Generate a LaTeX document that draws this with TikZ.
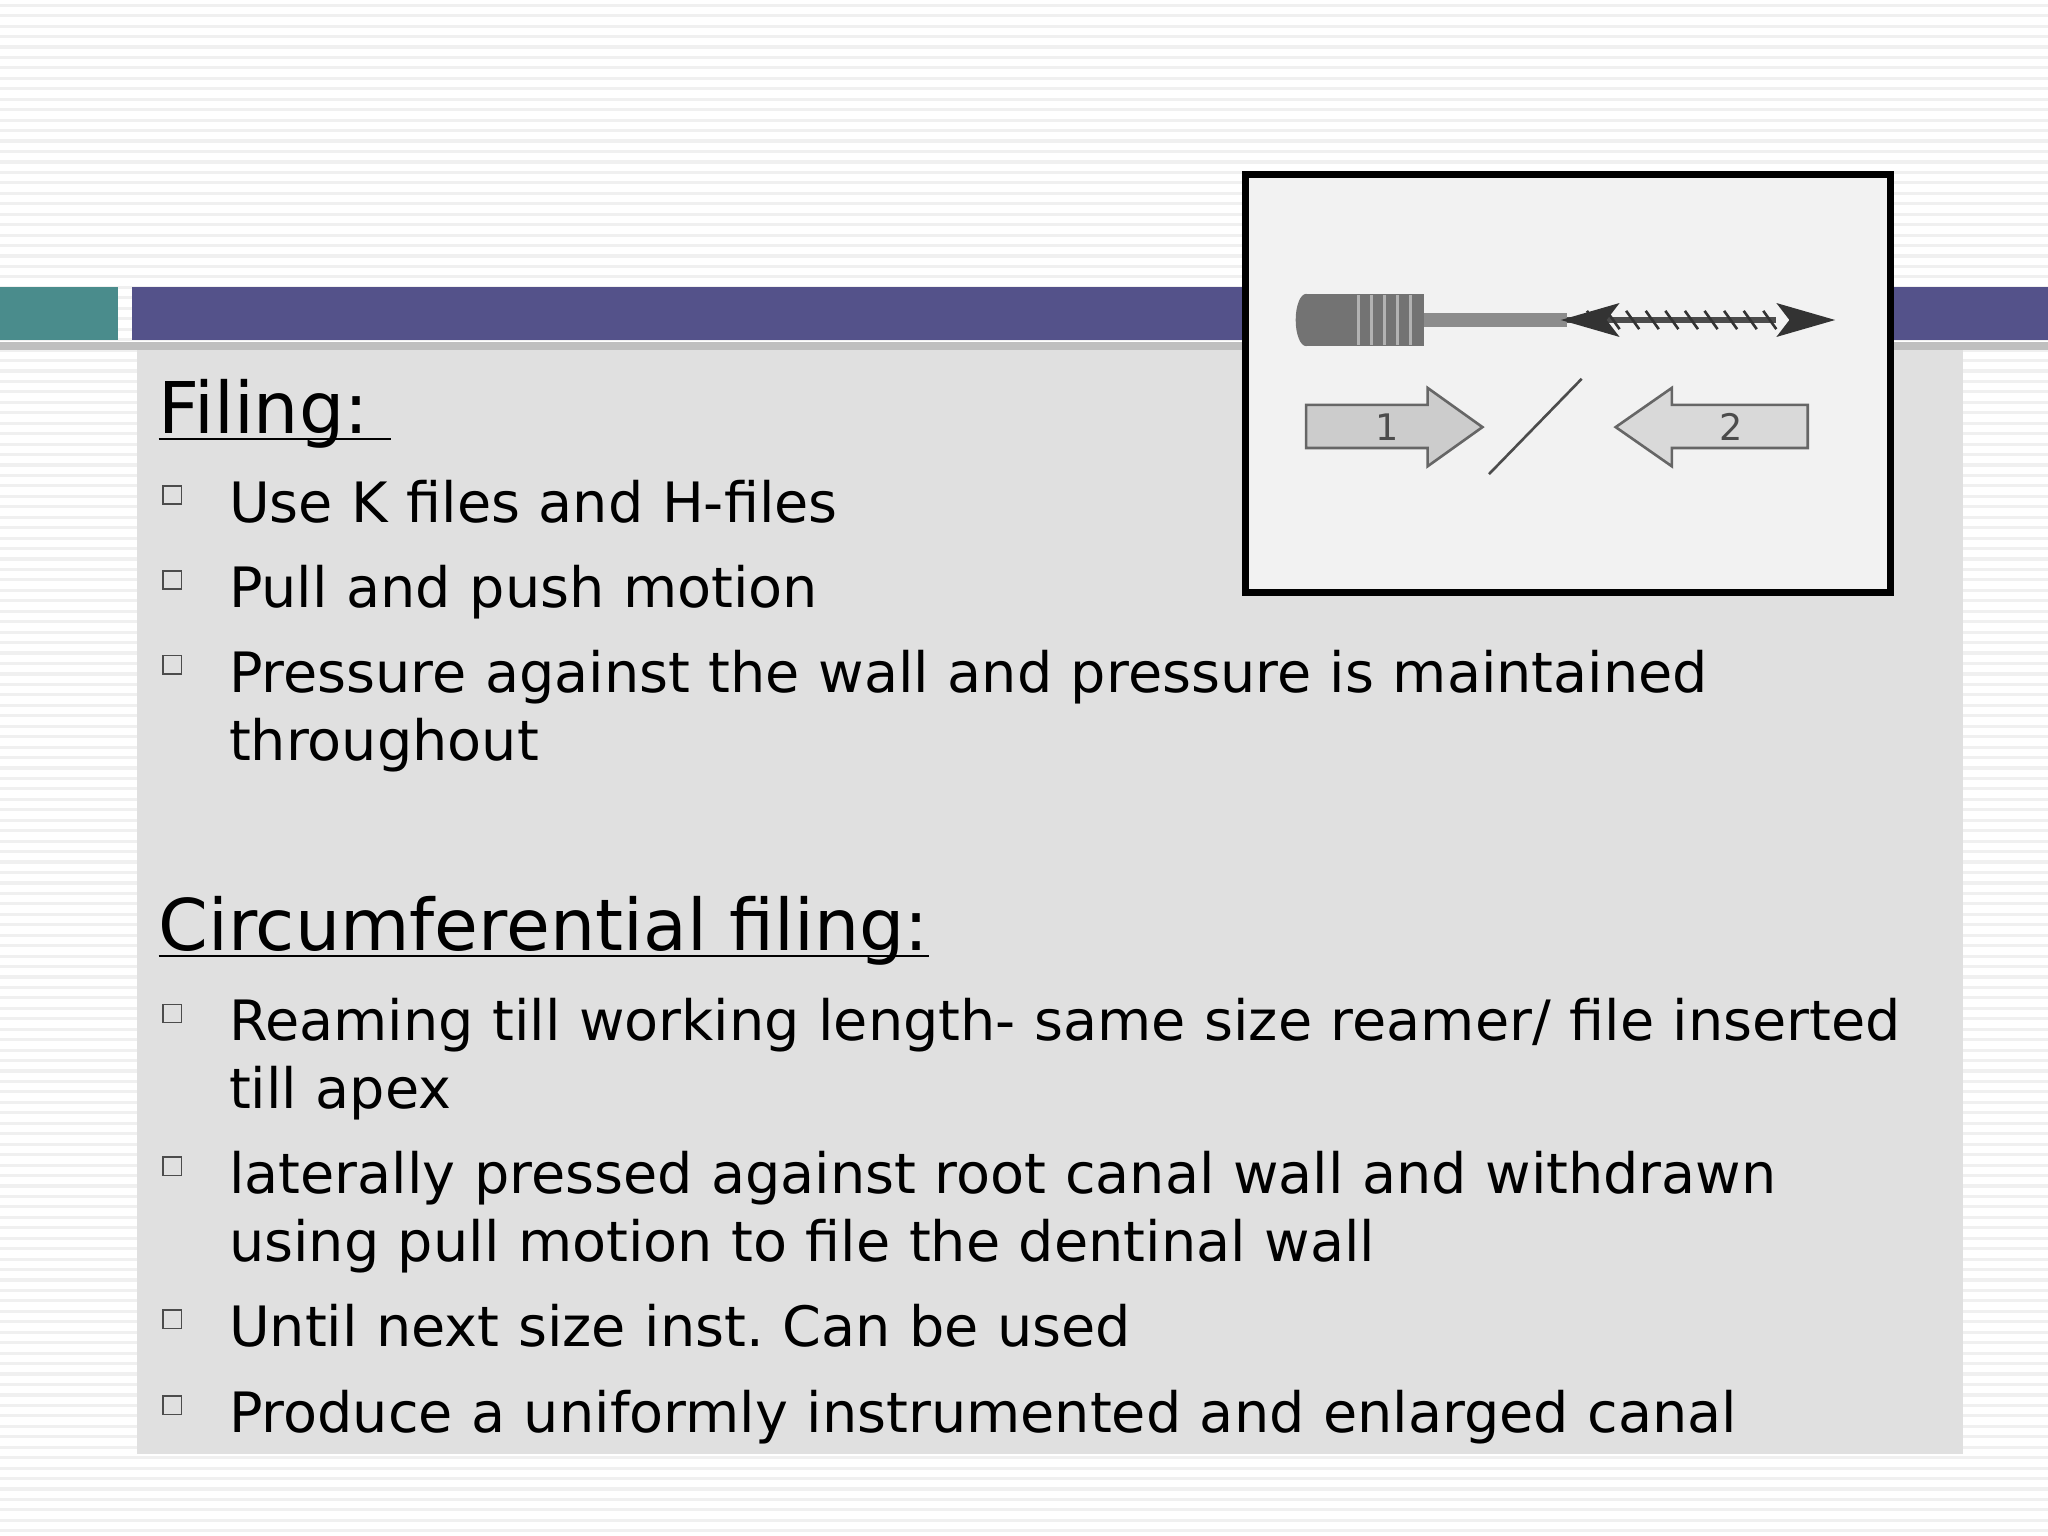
\documentclass[tikz,border=0pt]{standalone}
\usepackage{fontspec}
\setmainfont{DejaVu Sans}
\definecolor{barpurple}{RGB}{84,82,138}
\definecolor{barteal}{RGB}{74,140,140}
\newcommand{\ul}[1]{\setbox0\hbox{#1}\rlap{\rule[-2.5pt]{\wd0}{0.8pt}}\box0}
\begin{document}
\begin{tikzpicture}[x=0.5pt,y=-0.5pt,
 bul/.style={draw=black!70,line width=0.6pt,minimum size=7pt,inner sep=0pt},
 txt/.style={anchor=base west,inner sep=0pt,font=\fontsize{21.3}{26}\selectfont\frenchspacing,align=left,text width=720pt},
 head/.style={anchor=base west,inner sep=0pt,font=\fontsize{27.3}{30}\selectfont}]
\useasboundingbox (0,0) rectangle (1568,1176);
\fill[white] (0,0) rectangle (1568,1176);
\foreach \y in {4,12,...,1172} \draw[black!6,line width=1.2pt] (0,\y) -- (1568,\y);
% bars
\fill[black!25] (0,262) rectangle (1568,268);
\fill[barteal] (0,220) rectangle (90,260);
\fill[barpurple] (101,220) rectangle (1568,260);
\fill[black!12] (105,268) rectangle (1503,1113);
% picture
\node[draw=black,line width=2.5pt,fill=black!5,minimum width=247pt,minimum height=160pt,inner sep=0pt,anchor=north west] (pic) at (951,131) {};
\fill[black!55] (1000,225) rectangle (1090,265);
\foreach \x in {1040,1050,1060,1070,1080} \draw[black!30,line width=1pt] (\x,226) -- (\x,264);
\fill[black!55] (1000,245) ellipse (8 and 20);
\fill[black!45] (1090,240) rectangle (1200,250);
\draw[black!70,line width=2pt] (1200,245) -- (1360,245);
\foreach \x in {1215,1230,...,1350} \draw[black!80,line width=1pt] (\x,238) -- (\x+10,252);
\fill[black!80] (1195,245) -- (1240,232) -- (1230,245) -- (1240,258) -- cycle;
\fill[black!80] (1405,245) -- (1360,232) -- (1370,245) -- (1360,258) -- cycle;
\draw[black!60,fill=black!20,line width=1pt] (1000,310) -- (1093,310) -- (1093,297) -- (1135,327) -- (1093,357) -- (1093,343) -- (1000,343) -- cycle;
\node[font=\fontsize{14}{14}\selectfont\rmfamily,text=black!70] (n1) at (1062,327) {1};
\draw[black!70,line width=1pt] (1140,363) -- (1211,290);
\draw[black!60,fill=black!15,line width=1pt] (1384,310) -- (1280,310) -- (1280,297) -- (1237,327) -- (1280,357) -- (1280,343) -- (1384,343) -- cycle;
\node[font=\fontsize{14}{14}\selectfont\rmfamily,text=black!70] (n2) at (1325,327) {2};
% text
\node[head] (h1) at (121,332) {\ul{Filing:\ }};
\node[txt] (t1) at (175,400) {Use K files and H-files};
\node[txt] (t2) at (175,465) {Pull and push motion};
\node[txt] (t3) at (175,530) {Pressure against the wall and pressure is maintained\\throughout};
\node[head] (h2) at (121,728) {\ul{Circumferential filing:}};
\node[txt] (t4) at (175,797) {Reaming till working length- same size reamer/ file inserted\\till apex};
\node[txt] (t5) at (175,914) {laterally pressed against root canal wall and withdrawn\\using pull motion to file the dentinal wall};
\node[txt] (t6) at (175,1031) {Until next size inst. Can be used};
\node[txt] (t7) at (175,1097) {Produce a uniformly instrumented and enlarged canal};
\foreach \y/\n in {379/b1,444/b2,509/b3,776/b4,893/b5,1010/b6,1076/b7} \node[bul] (\n) at (132,\y) {};
\end{tikzpicture}
\end{document}
